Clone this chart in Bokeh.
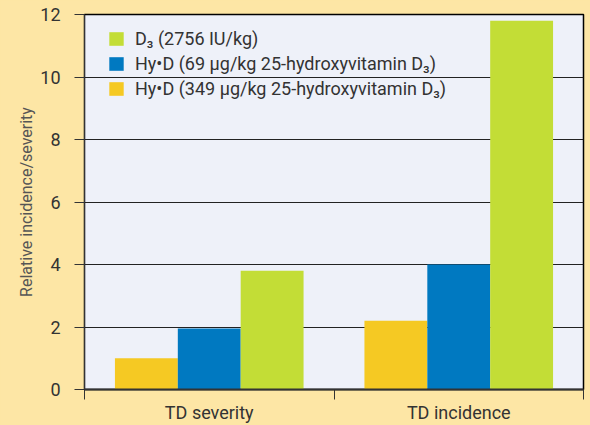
from bokeh.plotting import figure
from bokeh.models import (Range1d, FixedTicker, ColumnDataSource, Legend, LegendItem)
from bokeh.embed import file_html
from bokeh.resources import INLINE

# ---- data ----
categories = ["TD severity", "TD incidence"]
series_names = [
    "Hy\u2022D (349 \u00b5g/kg 25-hydroxyvitamin D\u2083)",
    "Hy\u2022D (69 \u00b5g/kg 25-hydroxyvitamin D\u2083)",
    "D\u2083 (2756 IU/kg)",
]
hyd349 = [1.0, 2.2]
hyd69 = [1.95, 4.0]
d3 = [3.8, 11.8]
y_ticks = [0, 2, 4, 6, 8, 10, 12]

series_values = [hyd349, hyd69, d3]
colors = ["#f5c923", "#0079c1", "#c3dd36"]
legend_order = [2, 1, 0]

BG = "#fde6a5"
PLOT_BG = "#eef1f9"
FONT = "Roboto"

p = figure(width=590, height=425, output_backend="svg", toolbar_location=None,
           x_range=Range1d(0, len(categories)), y_range=Range1d(0, 12),
           min_border_left=84, min_border_right=7, min_border_top=14, min_border_bottom=36)
p.background_fill_color = PLOT_BG
p.border_fill_color = BG
p.outline_line_color = "black"
p.outline_line_width = 1.5

bar_w = 0.252
offsets = [-bar_w, 0.0, bar_w]
renderers = []
for vals, off, col in zip(series_values, offsets, colors):
    src = ColumnDataSource(dict(x=[i + 0.5 + off for i in range(len(categories))], top=vals))
    r = p.vbar(x="x", top="top", width=bar_w, bottom=0, source=src,
               fill_color=col, line_color=None)
    renderers.append(r)

# x axis: labels at category centres, ticks at boundaries
p.xaxis.ticker = FixedTicker(ticks=[i + 0.5 for i in range(len(categories))],
                             minor_ticks=list(range(len(categories) + 1)))
p.xaxis.major_label_overrides = {i + 0.5: c for i, c in enumerate(categories)}
p.xaxis.major_tick_out = 0
p.xaxis.major_tick_in = 0
p.xaxis.minor_tick_out = 10
p.xaxis.minor_tick_in = 0
p.xaxis.minor_tick_line_color = "#333333"
p.xaxis.axis_line_color = "#333333"
p.xaxis.axis_line_width = 2
p.xaxis.major_label_text_font = FONT
p.xaxis.major_label_text_font_size = "18px"
p.xaxis.major_label_text_color = "#333333"
p.xaxis.major_label_standoff = 2

p.yaxis.ticker = FixedTicker(ticks=y_ticks)
p.yaxis.major_tick_out = 10
p.yaxis.major_tick_in = 0
p.yaxis.minor_tick_line_color = None
p.yaxis.major_tick_line_color = "#333333"
p.yaxis.axis_line_color = "#333333"
p.yaxis.major_label_text_font = FONT
p.yaxis.major_label_text_font_size = "18px"
p.yaxis.major_label_text_color = "#333333"
p.yaxis.major_label_standoff = 14
p.yaxis.axis_label = "Relative incidence/severity"
p.yaxis.axis_label_text_font = FONT
p.yaxis.axis_label_text_font_size = "16px"
p.yaxis.axis_label_text_font_style = "normal"
p.yaxis.axis_label_text_color = "#555555"
p.yaxis.axis_label_standoff = 1

p.xgrid.grid_line_color = None
p.ygrid.grid_line_color = "#222222"
p.ygrid.grid_line_width = 1

legend = Legend(items=[LegendItem(label=series_names[k], renderers=[renderers[k]]) for k in legend_order],
                location=(13, 280))
legend.background_fill_alpha = 0
legend.border_line_alpha = 0
legend.margin = 0
legend.padding = 10
legend.glyph_width = 18
legend.glyph_height = 17
legend.label_height = 20
legend.spacing = 4
legend.label_standoff = 10
legend.label_text_font = FONT
legend.label_text_font_size = "18px"
legend.label_text_color = "#333333"
p.add_layout(legend, "center")

html = file_html(p, INLINE)
html = html.replace("</head>", "<style>html,body{background:%s;}</style></head>" % BG, 1)
open("out.html", "w").write(html)
